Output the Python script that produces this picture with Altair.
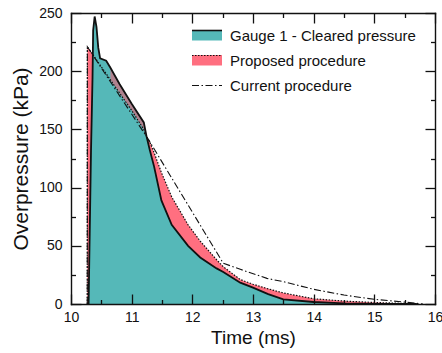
import altair as alt
import pandas as pd

# ---- data ----
t_ms = [10.268, 10.27, 10.29, 10.33, 10.355, 10.36, 10.365, 10.39, 10.42, 10.45, 10.48,
        10.58, 10.65, 10.80, 11.00, 11.20, 11.245, 11.30, 11.37, 11.49, 11.66, 11.93,
        12.13, 12.40, 12.51, 12.79, 13.00, 13.25, 13.50, 14.00, 14.50, 15.00, 15.50, 15.70]
gauge_kpa = [0, 0, 0, 132, 195, 214, 235, 247, 238, 220, 211,
             209, 203, 189, 172, 156, 144, 132, 118, 89, 68, 50,
             40, 30.6, 27.5, 18.3, 14, 8.5, 4, 1.7, 0.5, 0.1, 0, 0]
proposed_kpa = [0, 221, 219.5, 216.5, 214.6, 214, 213.9, 212, 209.8, 207.5, 205.3,
                197.8, 192.5, 181.3, 166.3, 150, 144, 139, 130, 113, 92, 68,
                54, 38, 32, 21, 17, 13, 9.5, 4.5, 2.5, 1.3, 0.5, 0]
current_t = [10.268, 10.27, 11.28, 12.51, 12.79, 13.23, 13.50, 14.00, 14.50, 15.00, 15.50, 15.80]
current_kpa = [0, 221, 141, 35, 29.8, 22, 19.2, 12.6, 7.7, 4, 1.7, 0]

x_ticks = [10, 11, 12, 13, 14, 15, 16]
x_minor = [10.5, 11.5, 12.5, 13.5, 14.5, 15.5]
y_ticks = [0, 50, 100, 150, 200, 250]
y_minor = [25, 75, 125, 175, 225]
legend_labels = ["Gauge 1 - Cleared pressure", "Proposed procedure", "Current procedure"]
crossings = [10.36, 11.245]   # where proposed and gauge meet
mauve_from = 10.65

TEAL = "#55b8b8"
PINK = "#ff6f80"
MAUVE = "#b0838f"
INK = "#111111"
FONT = "Liberation Sans"
W, H = 364, 291

df = pd.DataFrame({"i": list(range(len(t_ms))), "t": t_ms, "gauge": gauge_kpa, "prop": proposed_kpa})
cur = pd.DataFrame({"i": list(range(len(current_t))), "t": current_t, "p": current_kpa})

xs = alt.Scale(domain=[10, 16], nice=False, zero=False)
ys = alt.Scale(domain=[0, 250], nice=False)


def tick_axis(orient, offset, values, size, domain):
    return alt.Axis(orient=orient, offset=offset, values=values, ticks=True, tickSize=size,
                    tickWidth=1.3, tickColor=INK, labels=False, domain=domain,
                    domainColor=INK, domainWidth=1.4, domainCap="square", grid=False,
                    title=None, zindex=2)


label_x = alt.Axis(values=x_ticks, ticks=False, tickSize=0, domain=False, grid=False,
                   labelFontSize=14, labelPadding=6, labelColor=INK, labelFont=FONT,
                   labelFlush=False, labelOverlap=False,
                   title="Time (ms)", titleFontSize=19, titleFontWeight="normal",
                   titlePadding=4, titleColor=INK, titleFont=FONT)
label_y = alt.Axis(values=y_ticks, ticks=False, tickSize=0, domain=False, grid=False,
                   labelFontSize=14, labelPadding=9, labelColor=INK, labelFont=FONT,
                   labelFlush=False, labelOverlap=False,
                   title="Overpressure (kPa)", titleFontSize=21, titleFontWeight="normal",
                   titlePadding=7, titleColor=INK, titleFont=FONT)

base = alt.Chart(df)

teal = base.mark_area(color=TEAL, opacity=1).encode(
    x=alt.X("t:Q", scale=xs, axis=label_x),
    y=alt.Y("gauge:Q", scale=ys, axis=label_y),
)
pink = base.transform_filter(
    (alt.datum.t <= crossings[0]) | (alt.datum.t >= crossings[1])
).mark_area(color=PINK, opacity=1).encode(
    x=alt.X("t:Q", scale=xs, axis=tick_axis("top", -H, x_ticks, 10, True)),
    y=alt.Y("prop:Q", scale=ys, axis=tick_axis("right", -W, y_ticks, 10, True)),
    y2="gauge:Q",
)
mauve = base.transform_filter(
    (alt.datum.t >= mauve_from) & (alt.datum.t <= crossings[1])
).mark_area(color=MAUVE, opacity=1).encode(
    x=alt.X("t:Q", scale=xs, axis=tick_axis("top", -H, x_minor, 4.5, False)),
    y=alt.Y("prop:Q", scale=ys, axis=tick_axis("right", -W, y_minor, 4.5, False)),
    y2="gauge:Q",
)
gauge_line = base.mark_line(color=INK, strokeWidth=1.8).encode(
    x=alt.X("t:Q", scale=xs, axis=tick_axis("bottom", -H, x_ticks, 10, True)),
    y=alt.Y("gauge:Q", scale=ys, axis=tick_axis("left", -W, y_ticks, 10, True)),
    order=alt.Order("i:Q"),
)
prop_line = base.mark_line(color=INK, strokeWidth=1.2, strokeDash=[1.5, 1.5]).encode(
    x=alt.X("t:Q", scale=xs, axis=tick_axis("bottom", -H, x_minor, 4.5, False)),
    y=alt.Y("prop:Q", scale=ys, axis=tick_axis("left", -W, y_minor, 4.5, False)),
    order=alt.Order("i:Q"),
)
cur_line = alt.Chart(cur).mark_line(color=INK, strokeWidth=1.1, strokeDash=[7, 2.5, 1.5, 2.5]).encode(
    x=alt.X("t:Q", scale=xs, axis=None),
    y=alt.Y("p:Q", scale=ys, axis=None),
    order=alt.Order("i:Q"),
)

# ---- legend (upper right, inside the frame) ----
one = alt.Data(values=[{"k": 0}])
lx0, lx1, ltx = 121, 151, 159
leg = [
    alt.Chart(one).mark_rect(color=TEAL).encode(x=alt.value(lx0), x2=alt.value(lx1), y=alt.value(17), y2=alt.value(27.5)),
    alt.Chart(one).mark_rule(color=INK, strokeWidth=1.6).encode(x=alt.value(lx0), x2=alt.value(lx1), y=alt.value(17.5)),
    alt.Chart(one).mark_rect(color=PINK).encode(x=alt.value(lx0), x2=alt.value(lx1), y=alt.value(42), y2=alt.value(52.5)),
    alt.Chart(one).mark_rule(color=INK, strokeWidth=1.2, strokeDash=[1.5, 1.5]).encode(x=alt.value(lx0), x2=alt.value(lx1), y=alt.value(42.5)),
    alt.Chart(one).mark_rule(color=INK, strokeWidth=1.1, strokeDash=[7, 2.5, 1.5, 2.5]).encode(x=alt.value(lx0), x2=alt.value(lx1), y=alt.value(72.5)),
]
for lab, yb in zip(legend_labels, [27.7, 52.7, 77.7]):
    leg.append(alt.Chart(one).mark_text(align="left", baseline="alphabetic", fontSize=15, font=FONT, color=INK).encode(
        x=alt.value(ltx), y=alt.value(yb), text=alt.value(lab)))

chart = alt.layer(teal, pink, mauve, gauge_line, prop_line, cur_line, *leg).resolve_axis(
    x="independent", y="independent"
).properties(
    width=W, height=H,
    padding={"left": 71, "top": 13, "right": 7, "bottom": 49},
    autosize=alt.AutoSizeParams(type="none"),
).configure_view(strokeWidth=0).configure(font=FONT)

chart.save("out.html", embed_options={"renderer": "svg", "actions": False})
